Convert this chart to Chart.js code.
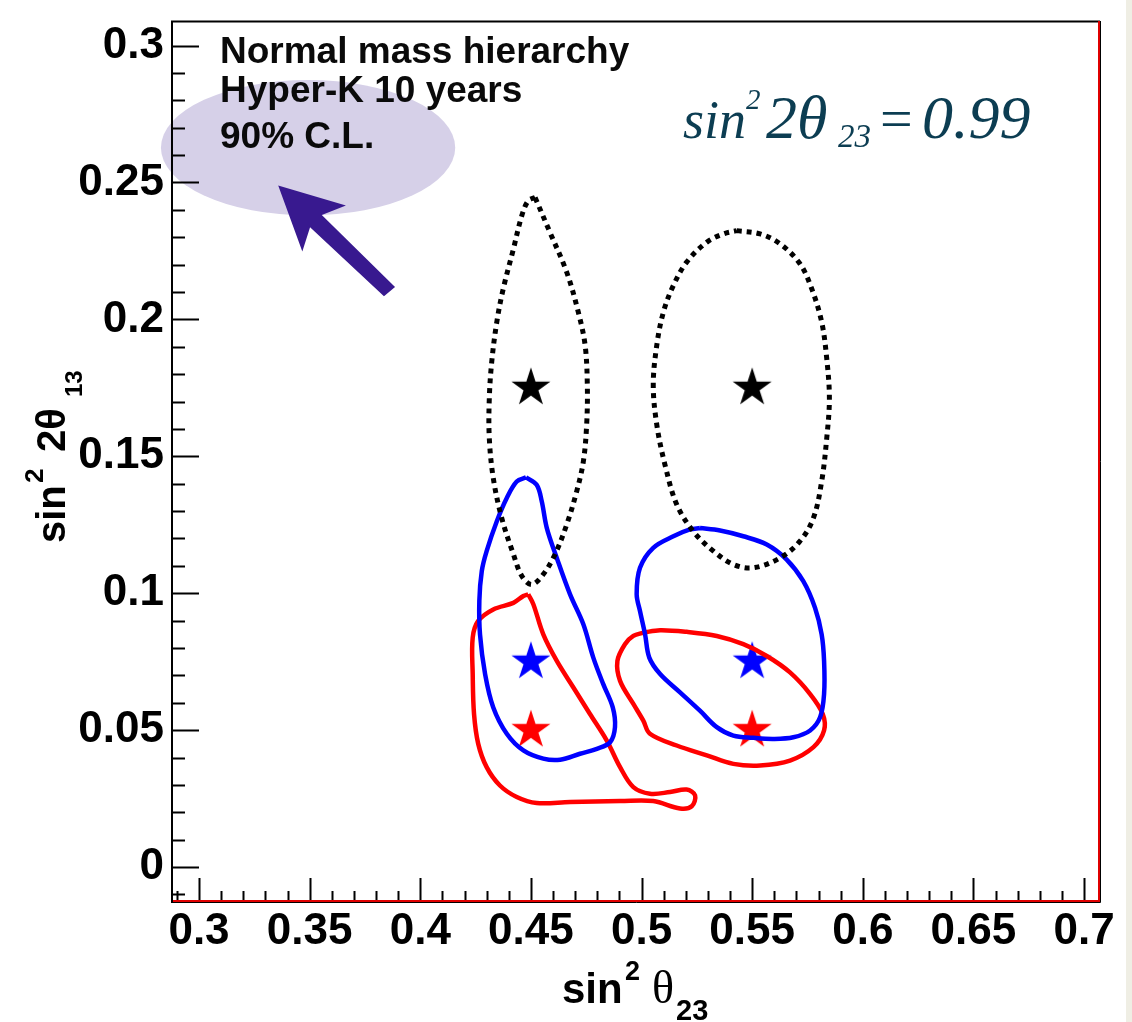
<!DOCTYPE html>
<html>
<head>
<meta charset="utf-8">
<script src="https://cdn.jsdelivr.net/npm/chart.js@4.4.1/dist/chart.umd.min.js"></script>
<style>
  body { margin: 0; background: #fff; }
  canvas { display: block; }
</style>
</head>
<body>
<canvas id="contours" width="1132" height="1022"></canvas>
<script>
// axis ticks
const xTicks = [0.3, 0.35, 0.4, 0.45, 0.5, 0.55, 0.6, 0.65, 0.7];
const xTickLabels = ['0.3', '0.35', '0.4', '0.45', '0.5', '0.55', '0.6', '0.65', '0.7'];
const yTicks = [0, 0.05, 0.1, 0.15, 0.2, 0.25, 0.3];
const yTickLabels = ['0', '0.05', '0.1', '0.15', '0.2', '0.25', '0.3'];

// true values (stars)
const starX = [0.45, 0.55];
const starBlackY = [0.175, 0.175];
const starBlueY = [0.075, 0.075];
const starRedY = [0.05, 0.05];

// 90% C.L. contours, [sin^2 theta23, sin^2 2theta13]
const blackLeft = [
  [0.4519, 0.2445], [0.4586, 0.2318], [0.4662, 0.2172], [0.4714, 0.2027], [0.4745, 0.1906],
  [0.4755, 0.1760], [0.4752, 0.1615], [0.4737, 0.1481], [0.4707, 0.1372], [0.4662, 0.1251],
  [0.4609, 0.1142], [0.4556, 0.1069], [0.4504, 0.1032], [0.4459, 0.1063], [0.4421, 0.1142],
  [0.4368, 0.1275], [0.4330, 0.1420], [0.4312, 0.1566], [0.4312, 0.1711], [0.4323, 0.1845],
  [0.4346, 0.1991], [0.4375, 0.2112], [0.4421, 0.2257], [0.4459, 0.2379], [0.4488, 0.2433],
  [0.4519, 0.2445]
];
const blackRight = [
  [0.5430, 0.2324], [0.5536, 0.2312], [0.5626, 0.2276], [0.5716, 0.2203], [0.5769, 0.2112],
  [0.5814, 0.1991], [0.5837, 0.1857], [0.5849, 0.1711], [0.5837, 0.1566], [0.5814, 0.1408],
  [0.5777, 0.1275], [0.5716, 0.1190], [0.5626, 0.1129], [0.5505, 0.1093], [0.5415, 0.1105],
  [0.5325, 0.1154], [0.5234, 0.1226], [0.5159, 0.1324], [0.5106, 0.1469], [0.5069, 0.1615],
  [0.5053, 0.1760], [0.5069, 0.1906], [0.5099, 0.2027], [0.5144, 0.2124], [0.5204, 0.2209],
  [0.5295, 0.2282], [0.5370, 0.2312], [0.5430, 0.2324]
];
const blueLeft = [
  [0.4478, 0.1423], [0.4526, 0.1396], [0.4549, 0.1336], [0.4572, 0.1238], [0.4617, 0.1129],
  [0.4677, 0.0996], [0.4737, 0.0887], [0.4782, 0.0765], [0.4827, 0.0668], [0.4870, 0.0583],
  [0.4880, 0.0511], [0.4858, 0.0456], [0.4798, 0.0432], [0.4722, 0.0414], [0.4632, 0.0392],
  [0.4556, 0.0396], [0.4466, 0.0426], [0.4391, 0.0487], [0.4330, 0.0583], [0.4293, 0.0705],
  [0.4270, 0.0850], [0.4267, 0.0972], [0.4278, 0.1081], [0.4300, 0.1154], [0.4346, 0.1263],
  [0.4391, 0.1348], [0.4436, 0.1408], [0.4478, 0.1423]
];
const blueRight = [
  [0.5264, 0.1238], [0.5355, 0.1229], [0.5460, 0.1208], [0.5566, 0.1178], [0.5656, 0.1123],
  [0.5731, 0.1044], [0.5784, 0.0947], [0.5814, 0.0850], [0.5825, 0.0753], [0.5825, 0.0632],
  [0.5807, 0.0547], [0.5762, 0.0499], [0.5686, 0.0474], [0.5596, 0.0468], [0.5505, 0.0472],
  [0.5415, 0.0480], [0.5340, 0.0511], [0.5264, 0.0571], [0.5174, 0.0638], [0.5084, 0.0705],
  [0.5035, 0.0765], [0.5016, 0.0850], [0.4993, 0.0935], [0.4978, 0.0996], [0.4993, 0.1093],
  [0.5053, 0.1166], [0.5144, 0.1208], [0.5219, 0.1233], [0.5264, 0.1238]
];
const redLeft = [
  [0.4488, 0.0996], [0.4511, 0.0960], [0.4556, 0.0850], [0.4617, 0.0753], [0.4692, 0.0656],
  [0.4767, 0.0559], [0.4843, 0.0462], [0.4903, 0.0365], [0.4963, 0.0292], [0.5038, 0.0268],
  [0.5129, 0.0274], [0.5204, 0.0283], [0.5242, 0.0262], [0.5227, 0.0222], [0.5174, 0.0214],
  [0.5053, 0.0241], [0.4903, 0.0241], [0.4677, 0.0238], [0.4526, 0.0234], [0.4436, 0.0256],
  [0.4360, 0.0298], [0.4300, 0.0365], [0.4262, 0.0450], [0.4243, 0.0559], [0.4237, 0.0705],
  [0.4237, 0.0838], [0.4262, 0.0899], [0.4330, 0.0941], [0.4421, 0.0965], [0.4466, 0.0990],
  [0.4488, 0.0996]
];
const redRight = [
  [0.5008, 0.0856], [0.5084, 0.0865], [0.5204, 0.0859], [0.5340, 0.0844], [0.5460, 0.0814],
  [0.5566, 0.0771], [0.5671, 0.0711], [0.5762, 0.0632], [0.5819, 0.0559], [0.5825, 0.0499],
  [0.5777, 0.0438], [0.5671, 0.0389], [0.5536, 0.0371], [0.5415, 0.0377], [0.5295, 0.0408],
  [0.5159, 0.0444], [0.5038, 0.0487], [0.5008, 0.0535], [0.4963, 0.0596], [0.4903, 0.0680],
  [0.4891, 0.0753], [0.4925, 0.0814], [0.4963, 0.0844], [0.5008, 0.0856]
];

// legend box and arrow, in data units
const ellipseCenter = [0.3493, 0.2627];
const ellipseRadii = [0.0665, 0.0247];
const arrowShape = [
  [0.3358, 0.2489], [0.3664, 0.2416], [0.3555, 0.2381], [0.3886, 0.2118],
  [0.3836, 0.2084], [0.3502, 0.2336], [0.3467, 0.2248]
];

const SANS = '"Liberation Sans", Arial, Helvetica, sans-serif';
const SERIF = '"Liberation Serif", "Times New Roman", serif';

function starImage(color) {
  const c = document.createElement('canvas');
  c.width = 46; c.height = 46;
  const g = c.getContext('2d');
  const R = 20.5, r = R * 0.382;
  g.beginPath();
  for (let i = 0; i < 10; i++) {
    const a = -Math.PI / 2 + i * Math.PI / 5;
    const rad = i % 2 === 0 ? R : r;
    g.lineTo(23 + rad * Math.cos(a), 23 + rad * Math.sin(a));
  }
  g.closePath();
  g.fillStyle = color;
  g.fill();
  return c;
}

function toPoints(pairs) {
  return pairs.map(p => ({ x: p[0], y: p[1] }));
}

function contour(pairs, color, dashed) {
  return {
    data: toPoints(pairs),
    showLine: true,
    borderColor: color,
    borderWidth: dashed ? 5 : 4.5,
    borderDash: dashed ? [5, 5] : [],
    tension: 0.35,
    pointRadius: 0,
    fill: false
  };
}

function stars(ys, color) {
  return {
    data: starX.map((x, i) => ({ x: x, y: ys[i] })),
    showLine: false,
    pointStyle: starImage(color),
    pointRadius: 20
  };
}

function drawPieces(ctx, pieces) {
  pieces.forEach(p => {
    ctx.font = p.font;
    ctx.fillText(p.text, p.x, p.y);
  });
}

// keep chart area fixed, ignore label overhang
function noOverhang(s) {
  s.paddingTop = 0;
  s.paddingBottom = 0;
  s.paddingLeft = 0;
  s.paddingRight = 0;
}

const decorations = {
  id: 'decorations',
  beforeDraw(chart) {
    const ctx = chart.ctx;
    const xs = chart.scales.x, ys = chart.scales.y;
    ctx.save();
    ctx.fillStyle = '#fff';
    ctx.fillRect(0, 0, chart.width, chart.height);
    ctx.fillStyle = '#efeee4';
    ctx.fillRect(1126, 0, 6, chart.height);
    const cx = xs.getPixelForValue(ellipseCenter[0]);
    const cy = ys.getPixelForValue(ellipseCenter[1]);
    const rx = xs.getPixelForValue(ellipseCenter[0] + ellipseRadii[0]) - cx;
    const ry = cy - ys.getPixelForValue(ellipseCenter[1] + ellipseRadii[1]);
    ctx.fillStyle = '#d6d0e8';
    ctx.beginPath();
    ctx.ellipse(cx, cy, rx, ry, 0, 0, 2 * Math.PI);
    ctx.fill();
    ctx.restore();
  },
  afterDatasetsDraw(chart) {
    const ctx = chart.ctx;
    const xs = chart.scales.x, ys = chart.scales.y;
    const a = chart.chartArea;
    ctx.save();
    ctx.strokeStyle = '#000';
    ctx.lineWidth = 2;
    ctx.beginPath();
    // ROOT style ticks, inside the frame
    for (let i = 29; i <= 70; i++) {
      const px = Math.round(xs.getPixelForValue(i / 100)) + 0.5;
      const len = i % 5 === 0 ? 24 : 11;
      ctx.moveTo(px, a.bottom);
      ctx.lineTo(px, a.bottom - len);
    }
    for (let i = -1; i <= 30; i++) {
      const py = Math.round(ys.getPixelForValue(i / 100)) + 0.5;
      const len = i % 5 === 0 ? 27 : 13;
      ctx.moveTo(a.left, py);
      ctx.lineTo(a.left + len, py);
    }
    ctx.stroke();
    // frame
    ctx.beginPath();
    ctx.moveTo(a.left, a.bottom + 1);
    ctx.lineTo(a.left, a.top + 0.5);
    ctx.lineTo(a.right, a.top + 0.5);
    ctx.stroke();
    ctx.lineWidth = 1;
    ctx.beginPath();
    ctx.moveTo(a.left, a.bottom + 0.5);
    ctx.lineTo(a.right + 0.5, a.bottom + 0.5);
    ctx.lineTo(a.right + 0.5, a.top);
    ctx.stroke();
    ctx.strokeStyle = '#e00000';
    ctx.lineWidth = 2;
    ctx.beginPath();
    ctx.moveTo(a.left + 1, a.bottom - 1);
    ctx.lineTo(a.right - 1, a.bottom - 1);
    ctx.lineTo(a.right - 1, a.top);
    ctx.stroke();
    ctx.restore();
  },
  afterDraw(chart) {
    const ctx = chart.ctx;
    const xs = chart.scales.x, ys = chart.scales.y;
    ctx.save();
    // arrow
    ctx.fillStyle = '#38198f';
    ctx.beginPath();
    arrowShape.forEach(p => ctx.lineTo(xs.getPixelForValue(p[0]), ys.getPixelForValue(p[1])));
    ctx.closePath();
    ctx.fill();

    ctx.textAlign = 'left';
    ctx.textBaseline = 'alphabetic';
    ctx.fillStyle = '#0a0a0a';
    ctx.font = 'bold 37px ' + SANS;
    ctx.fillText('Normal mass hierarchy', 220, 63);
    ctx.fillText('Hyper-K 10 years', 220, 102);
    ctx.fillText('90% C.L.', 220, 148);

    // sin^2 2theta23 = 0.99
    ctx.fillStyle = '#0c3d52';
    drawPieces(ctx, [
      { text: 'sin', x: 683, y: 138, font: 'italic 54px ' + SERIF },
      { text: '2', x: 746, y: 109, font: 'italic 29px ' + SERIF },
      { text: '2\u03B8', x: 766, y: 138, font: 'italic 62px ' + SERIF },
      { text: '23', x: 838, y: 147, font: 'italic 33px ' + SERIF },
      { text: '=', x: 880, y: 138, font: '58px ' + SERIF },
      { text: '0.99', x: 922, y: 138, font: 'italic 62px ' + SERIF }
    ]);

    // x axis title
    ctx.fillStyle = '#000';
    drawPieces(ctx, [
      { text: 'sin', x: 562, y: 1003, font: 'bold 42px ' + SANS },
      { text: '2', x: 625, y: 980, font: 'bold 27px ' + SANS },
      { text: '\u03B8', x: 652, y: 1003, font: '46px ' + SERIF },
      { text: '23', x: 676, y: 1020, font: 'bold 29px ' + SANS }
    ]);

    // y axis title
    ctx.translate(65, 543);
    ctx.rotate(-Math.PI / 2);
    drawPieces(ctx, [
      { text: 'sin', x: 0, y: 0, font: 'bold 40px ' + SANS },
      { text: '2', x: 60, y: -22, font: 'bold 26px ' + SANS },
      { text: '2\u03B8', x: 91, y: 0, font: 'bold 40px ' + SANS },
      { text: '13', x: 146, y: 17, font: 'bold 24px ' + SANS }
    ]);
    ctx.restore();
  }
};

new Chart(document.getElementById('contours'), {
  type: 'scatter',
  data: {
    datasets: [
      contour(blackLeft, '#000', true),
      contour(blackRight, '#000', true),
      contour(blueLeft, '#0000ff', false),
      contour(blueRight, '#0000ff', false),
      contour(redLeft, '#ff0000', false),
      contour(redRight, '#ff0000', false),
      stars(starBlackY, '#000'),
      stars(starBlueY, '#0000ff'),
      stars(starRedY, '#ff0000')
    ]
  },
  options: {
    responsive: false,
    devicePixelRatio: 1,
    animation: false,
    layout: { padding: { top: 18, right: 32, left: 0, bottom: 0 } },
    plugins: { legend: { display: false }, tooltip: { enabled: false } },
    scales: {
      x: {
        type: 'linear',
        min: 0.2878,
        max: 0.7072,
        afterFit: s => { s.height = 120; noOverhang(s); },
        afterBuildTicks: s => { s.ticks = xTicks.map(v => ({ value: v })); },
        grid: { display: false, drawTicks: false },
        border: { display: false },
        ticks: {
          autoSkip: false,
          maxRotation: 0,
          padding: 3,
          color: '#000',
          font: { family: SANS, size: 44, weight: 'bold' },
          callback: (v, i) => xTickLabels[i]
        }
      },
      y: {
        type: 'linear',
        min: -0.01274,
        max: 0.30895,
        afterFit: s => { s.width = 172; noOverhang(s); },
        afterBuildTicks: s => { s.ticks = yTicks.map(v => ({ value: v })); },
        grid: { display: false, drawTicks: false },
        border: { display: false },
        ticks: {
          autoSkip: false,
          padding: 8,
          color: '#000',
          font: { family: SANS, size: 44, weight: 'bold' },
          callback: (v, i) => yTickLabels[i]
        }
      }
    }
  },
  plugins: [decorations]
});
</script>
</body>
</html>
